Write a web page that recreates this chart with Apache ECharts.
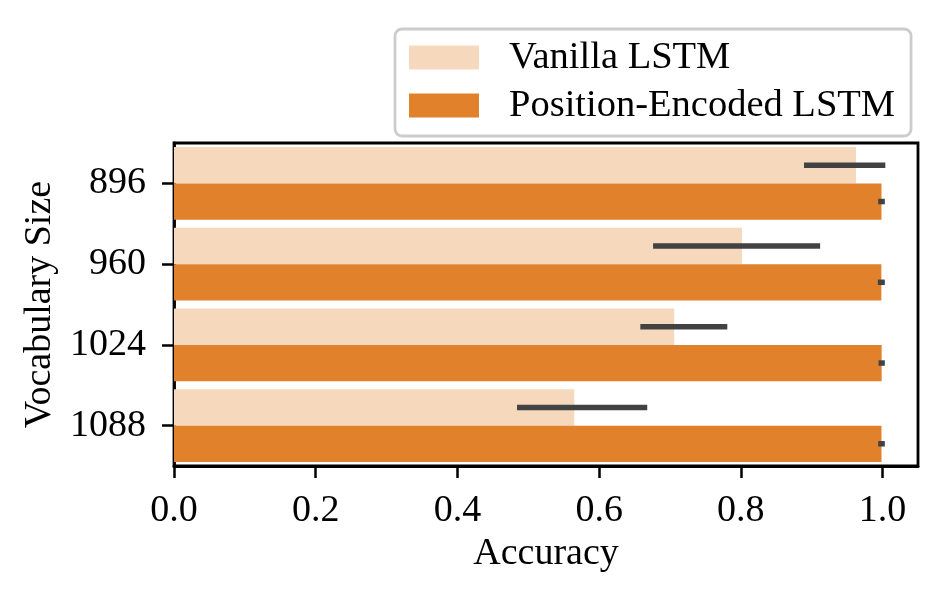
<!DOCTYPE html>
<html>
<head>
<meta charset="utf-8">
<script src="https://cdn.jsdelivr.net/npm/echarts@6/dist/echarts.min.js"></script>
<style>
  html, body { margin: 0; padding: 0; background: #ffffff; }
  #chart { width: 947px; height: 600px; }
</style>
</head>
<body>
<div id="chart"></div>
<script>
// ---- data ----
const categories = ['896', '960', '1024', '1088'];
const seriesNames = ['Vanilla LSTM', 'Position-Encoded LSTM'];
const vanillaAcc = [0.9625, 0.8017, 0.7059, 0.5649];
const vanillaLo  = [0.893, 0.680, 0.662, 0.488];
const vanillaHi  = [1.000, 0.908, 0.777, 0.664];
const posEncAcc  = [0.9985, 0.9983, 0.9987, 0.9985];
const posEncLo   = [0.9977, 0.9972, 0.9982, 0.9977];
const posEncHi   = [0.9993, 0.9993, 0.9993, 0.9993];
const xTicks = [0, 0.2, 0.4, 0.6, 0.8, 1.0];

const FONT = '"Liberation Serif", "DejaVu Serif", serif';
const FS = 38;
const FS_LEG = 38.5;
const colVanilla = '#f6d9bd';
const colPosEnc = '#e1812c';
const errColor = '#424242';

function errData(lo, hi) {
  return categories.map((c, i) => [i, lo[i], hi[i]]);
}

function makeErrRender(side) {
  return function (params, api) {
    const cat = api.value(0);
    const p1 = api.coord([api.value(1), cat]);
    const p2 = api.coord([api.value(2), cat]);
    const band = api.size([0, 1])[1];
    const off = side * band * 0.225;
    return {
      type: 'line',
      shape: { x1: p1[0], y1: p1[1] + off, x2: p2[0], y2: p2[1] + off },
      style: { stroke: errColor, lineWidth: 5.5, lineCap: 'square' },
      z2: 10
    };
  };
}

const chart = echarts.init(document.getElementById('chart'), null, { renderer: 'canvas' });
chart.setOption({
  animation: false,
  backgroundColor: '#ffffff',
  textStyle: { fontFamily: FONT, color: '#000' },
  grid: {
    left: 174, right: 29, top: 143, bottom: 134,
    show: true, borderColor: '#000', borderWidth: 2.8, backgroundColor: 'transparent'
  },
  legend: {
    data: seriesNames,
    orient: 'vertical',
    left: 395, top: 29,
    padding: [9, 16, 11, 14],
    itemWidth: 70, itemHeight: 24, itemGap: 9,
    icon: 'rect',
    borderColor: '#cccccc', borderWidth: 2.8, borderRadius: 7,
    backgroundColor: '#ffffff',
    textStyle: { fontFamily: FONT, fontSize: FS_LEG, color: '#000', padding: [0, 0, 0, 25] }
  },
  xAxis: {
    type: 'value',
    min: 0, max: 1.05, interval: 0.2,
    name: 'Accuracy', nameLocation: 'middle', nameGap: 69,
    nameTextStyle: { fontFamily: FONT, fontSize: FS, color: '#000' },
    axisLine: { show: true, lineStyle: { color: '#000', width: 2.8 } },
    axisTick: { show: true, length: 12, lineStyle: { color: '#000', width: 2.5 } },
    axisLabel: {
      fontFamily: FONT, fontSize: FS, color: '#000', margin: 26,
      showMaxLabel: false,
      formatter: v => (xTicks.some(t => Math.abs(t - v) < 1e-9) ? v.toFixed(1) : '')
    },
    splitLine: { show: false }
  },
  yAxis: {
    type: 'category',
    data: categories,
    inverse: true,
    name: 'Vocabulary Size', nameLocation: 'middle', nameGap: 112,
    nameTextStyle: { fontFamily: FONT, fontSize: FS, color: '#000' },
    axisLine: { show: true, lineStyle: { color: '#000', width: 2.8 } },
    axisTick: { show: true, alignWithLabel: true, length: 12, lineStyle: { color: '#000', width: 2.5 } },
    axisLabel: { fontFamily: FONT, fontSize: FS, color: '#000', margin: 28 },
    splitLine: { show: false }
  },
  series: [
    {
      name: seriesNames[0], type: 'bar', data: vanillaAcc,
      barCategoryGap: '10%', barGap: '0%',
      itemStyle: { color: colVanilla }
    },
    {
      name: seriesNames[1], type: 'bar', data: posEncAcc,
      barCategoryGap: '10%', barGap: '0%',
      itemStyle: { color: colPosEnc }
    },
    {
      name: 'err-vanilla', type: 'custom', renderItem: makeErrRender(-1),
      data: errData(vanillaLo, vanillaHi),
      encode: { x: [1, 2], y: 0 }, z: 5, silent: true
    },
    {
      name: 'err-posenc', type: 'custom', renderItem: makeErrRender(1),
      data: errData(posEncLo, posEncHi),
      encode: { x: [1, 2], y: 0 }, z: 5, silent: true
    }
  ]
});
</script>
</body>
</html>
